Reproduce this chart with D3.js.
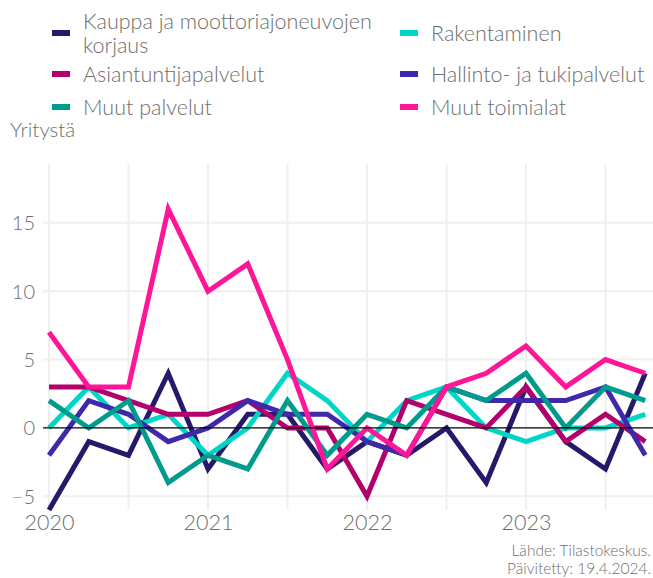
<!DOCTYPE html>
<html>
<head>
<meta charset="utf-8">
<script src="https://cdn.jsdelivr.net/npm/d3@7"></script>
<style>
  body { margin: 0; background: #fff; }
  text { font-family: Lato, "Open Sans", sans-serif; font-weight: 300; fill: #6e6e6e; }
</style>
</head>
<body>
<div id="chart"></div>
<script>
// quarters 2020Q1 .. 2023Q4
var quarters = d3.range(16).map(i => 2020 + i / 4);

var seriesNames = ["Kauppa ja moottoriajoneuvojen korjaus", "Rakentaminen", "Asiantuntijapalvelut",
                   "Hallinto- ja tukipalvelut", "Muut palvelut", "Muut toimialat"];
var kauppa      = [-6, -1, -2, 4, -3, 1, 1, -3, -1, -2, 0, -4, 3, -1, -3, 4];
var rakentam    = [0, 3, 0, 1, -2, 0, 4, 2, -1, 2, 3, 0, -1, 0, 0, 1];
var asiantunt   = [3, 3, 2, 1, 1, 2, 0, 0, -5, 2, 1, 0, 3, -1, 1, -1];
var hallinto    = [-2, 2, 1, -1, 0, 2, 1, 1, -1, -2, 3, 2, 2, 2, 3, -2];
var muutPalv    = [2, 0, 2, -4, -2, -3, 2, -2, 1, 0, 3, 2, 4, 0, 3, 2];
var muutToim    = [7, 3, 3, 16, 10, 12, 5, -3, 0, -2, 3, 4, 6, 3, 5, 4];
var colors = ["#251a6a", "#00d6c6", "#b3006d", "#4028ad", "#009b8d", "#ff1597"];

var yTicks = [-5, 0, 5, 10, 15];
var xTicks = [2020, 2021, 2022, 2023];

var allSeries = [kauppa, rakentam, asiantunt, hallinto, muutPalv, muutToim].map((vals, i) => ({
  name: seriesNames[i], color: colors[i], values: vals.map((v, j) => ({ t: quarters[j], v: v }))
}));

var width = 653, height = 578;
var svg = d3.select("#chart").append("svg")
    .attr("width", width)
    .attr("height", height);

var x = d3.scaleLinear().domain([2020, 2024]).range([49, 685]);
var y = d3.scaleLinear().domain([-6, 19.3]).range([510, 164]);

// grid
svg.append("g").selectAll("line.v")
  .data(d3.range(2020, 2024, 0.5))
  .enter().append("line")
  .attr("x1", d => x(d)).attr("x2", d => x(d))
  .attr("y1", y(19.3)).attr("y2", y(-6))
  .attr("stroke", "#efefef").attr("stroke-width", 2);

svg.append("g").selectAll("line.h")
  .data(yTicks.filter(d => d != 0))
  .enter().append("line")
  .attr("x1", 43).attr("x2", width)
  .attr("y1", d => y(d)).attr("y2", d => y(d))
  .attr("stroke", "#efefef").attr("stroke-width", 2);

// y axis labels
var yAxis = svg.append("g")
  .attr("transform", "translate(35,0)")
  .call(d3.axisLeft(y).tickValues(yTicks).tickSize(0).tickPadding(0));
yAxis.select(".domain").remove();
yAxis.selectAll("text").style("font-size", "20px").attr("fill", "#6e6e6e")
  .style("font-family", "Lato, sans-serif").attr("dy", "0.35em");

// x axis labels
var xAxis = svg.append("g")
  .attr("transform", "translate(0,513)")
  .call(d3.axisBottom(x).tickValues(xTicks).tickFormat(d3.format("d")).tickSize(0).tickPadding(0));
xAxis.select(".domain").remove();
xAxis.selectAll("text").style("font-size", "21.5px").attr("fill", "#6e6e6e")
  .style("font-family", "Lato, sans-serif").attr("dy", "0.8em");

// lines
var line = d3.line().x(d => x(d.t)).y(d => y(d.v));
svg.append("g").selectAll("path")
  .data(allSeries)
  .enter().append("path")
  .attr("d", d => line(d.values))
  .attr("fill", "none")
  .attr("stroke", d => d.color)
  .attr("stroke-width", 5)
  .attr("stroke-linejoin", "miter");

// zero line
svg.append("line")
  .attr("x1", 43).attr("x2", width)
  .attr("y1", y(0)).attr("y2", y(0))
  .attr("stroke", "#000").attr("stroke-width", 1.3);

// y title
svg.append("text").attr("x", 10).attr("y", 137)
  .style("font-size", "20.5px").text("Yritystä");

// legend
var legendPos = [
  { x: 52, y: 33, lines: ["Kauppa ja moottoriajoneuvojen", "korjaus"] },
  { x: 400, y: 33, lines: ["Rakentaminen"] },
  { x: 52, y: 74, lines: ["Asiantuntijapalvelut"] },
  { x: 400, y: 74, lines: ["Hallinto- ja tukipalvelut"] },
  { x: 52, y: 107, lines: ["Muut palvelut"] },
  { x: 400, y: 107, lines: ["Muut toimialat"] }
];
var lg = svg.append("g").selectAll("g")
  .data(allSeries)
  .enter().append("g")
  .attr("transform", (d, i) => "translate(" + legendPos[i].x + "," + legendPos[i].y + ")");
lg.append("rect").attr("x", 0).attr("y", -3).attr("width", 18).attr("height", 6)
  .attr("fill", d => d.color);
lg.append("text")
  .attr("x", 31)
  .style("font-size", "21.5px")
  .each(function(d, i) {
    var ls = legendPos[i].lines;
    var t = d3.select(this);
    ls.forEach((s, k) => {
      t.append("tspan").attr("x", 31)
        .attr("y", (k - (ls.length - 1) / 2) * 24)
        .attr("dy", "0.35em").text(s);
    });
  });

// source
var src = svg.append("text").attr("text-anchor", "end").style("font-size", "15.5px");
src.append("tspan").attr("x", 651).attr("y", 556).text("Lähde: Tilastokeskus.");
src.append("tspan").attr("x", 651).attr("y", 574).text("Päivitetty: 19.4.2024.");
</script>
</body>
</html>
